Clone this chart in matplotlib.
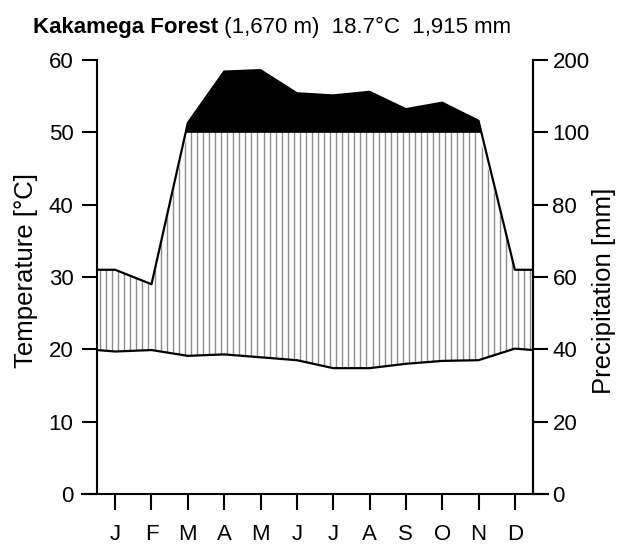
import numpy as np
import matplotlib.pyplot as plt

plt.rcParams['font.family'] = ['Liberation Sans', 'DejaVu Sans']

# monthly climate data, Kakamega Forest
months = ['J', 'F', 'M', 'A', 'M', 'J', 'J', 'A', 'S', 'O', 'N', 'D']
temp = [19.7, 19.9, 19.1, 19.3, 18.9, 18.5, 17.4, 17.4, 18.0, 18.4, 18.5, 20.1]
prec = [62, 58, 113, 184, 186, 154, 151, 156, 132, 141, 116, 62]

def scale_prec(p):
    # Walter-Lieth scale: 20 mm = 10 C up to 100 mm, then 100 mm = 10 C
    p = np.asarray(p, dtype=float)
    return np.where(p <= 100, p / 2, 50 + (p - 100) / 10)

# extend to the plot edges using Dec/Jan means
x = np.concatenate([[0], np.arange(12) + 0.5, [12]])
t_edge = (temp[0] + temp[-1]) / 2
p_edge = (prec[0] + prec[-1]) / 2
t = np.array([t_edge] + temp + [t_edge])
p = scale_prec([p_edge] + prec + [p_edge])

fig = plt.figure(figsize=(6.29, 5.44), dpi=100)
ax = fig.add_axes([0.1542, 0.0919, 0.6932, 0.7978])

# humid period: vertical hatching between temperature and precipitation
top = np.minimum(p, 50)
poly = ax.fill_between(x, t, top, where=top > t, interpolate=True,
                       facecolor='white', edgecolor='none', zorder=1)
lines = ax.vlines(np.arange(0, 12, 1 / 6) + 1 / 12, 0, 60,
                  color='#8c8c8c', lw=1.0, zorder=2)
lines.set_clip_path(poly.get_paths()[0], ax.transData)

# perhumid part (> 100 mm) in black
ax.fill_between(x, 50, p, where=p > 50, interpolate=True,
                color='black', lw=0, zorder=3)

ax.plot(x, p, color='black', lw=1.6, zorder=4)
ax.plot(x, t, color='black', lw=1.6, zorder=4)

ax.set_xlim(0, 12)
ax.set_ylim(0, 60)
ax.set_xticks(np.arange(12) + 0.5)
ax.set_xticklabels(months)
ax.set_yticks(range(0, 61, 10))
ax.tick_params(axis='x', length=11.5, width=1.5, pad=10, labelsize=16)
ax.tick_params(axis='y', length=10.5, width=1.5, pad=6.5, labelsize=16)
ax.spines['top'].set_visible(False)
ax.spines['bottom'].set_visible(False)
ax.spines['left'].set_linewidth(1.5)
ax.spines['right'].set_linewidth(1.5)
ax.plot([-0.41, 12.41], [0, 0], color='black', lw=1.5, clip_on=False, zorder=5)

ax2 = ax.twinx()
ax2.set_ylim(0, 60)
ax2.set_yticks(range(0, 61, 10))
ax2.set_yticklabels(['0', '20', '40', '60', '80', '100', '200'])
ax2.tick_params(axis='y', length=10.5, width=1.5, pad=3.5, labelsize=16)
for s in ['top', 'bottom', 'left']:
    ax2.spines[s].set_visible(False)
ax2.spines['right'].set_linewidth(1.5)

fig.text(26 / 629, 1 - 270 / 544, 'Temperature [°C]', fontsize=18.5,
         rotation=90, ha='center', va='center')
fig.text(604 / 629, 1 - 291 / 544, 'Precipitation [mm]', fontsize=18.5,
         rotation=90, ha='center', va='center')

t1 = fig.text(33 / 629, 1 - 38 / 544, 'Kakamega Forest', fontsize=16,
              fontweight='bold', va='bottom', ha='left')
ax.annotate(' (1,670 m)  18.7°C  1,915 mm', xy=(1, 0), xycoords=t1,
            fontsize=16, va='bottom', ha='left')

fig.savefig('out.png', dpi=100)
